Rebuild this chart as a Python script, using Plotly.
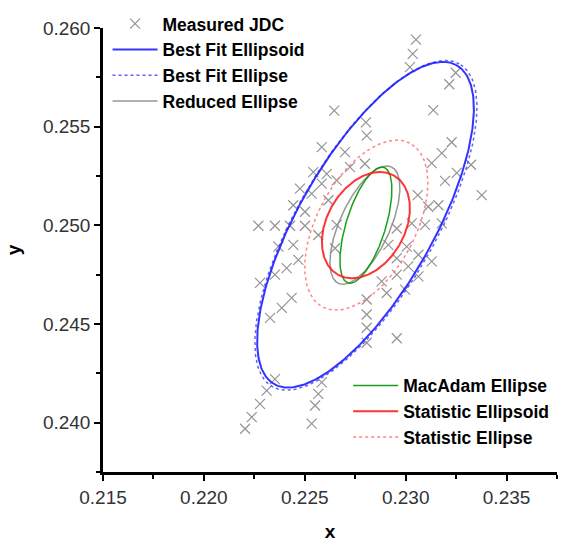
import numpy as np
import plotly.graph_objects as go

# Measured JDC chromaticity points (CIE x, y)
jdc_x = [0.23051, 0.23035, 0.23021, 0.23248, 0.23216, 0.23137, 0.22646, 0.22803,
         0.22807, 0.23228, 0.23179, 0.22584, 0.22699, 0.23129, 0.22798, 0.23324,
         0.22724, 0.22542, 0.22609, 0.23253, 0.23195, 0.22476, 0.22584, 0.22658,
         0.23377, 0.23060, 0.22534, 0.22443, 0.22617, 0.23162, 0.23112, 0.22501,
         0.22270, 0.22352, 0.22427, 0.22501, 0.22658, 0.23030, 0.23179, 0.23096,
         0.22956, 0.22567, 0.22369, 0.22443, 0.22914, 0.23005, 0.22650, 0.23063,
         0.22468, 0.22956, 0.23129, 0.22410, 0.22352, 0.23013, 0.23063, 0.22956,
         0.22278, 0.22881, 0.22906, 0.22997, 0.22435, 0.22386, 0.22328, 0.22807,
         0.22807, 0.22807, 0.22956, 0.22807, 0.22352, 0.22311, 0.22584, 0.22567,
         0.22278, 0.22551, 0.22237, 0.22534, 0.22204]
jdc_y = [0.25941, 0.25869, 0.25802, 0.25773, 0.25715, 0.25584, 0.25581, 0.25522,
         0.25455, 0.25421, 0.25366, 0.25396, 0.25371, 0.25315, 0.25312, 0.25307,
         0.25295, 0.25270, 0.25261, 0.25266, 0.25225, 0.25186, 0.25211, 0.25228,
         0.25153, 0.25153, 0.25161, 0.25102, 0.25127, 0.25102, 0.25094, 0.25069,
         0.24998, 0.24998, 0.24998, 0.24998, 0.25002, 0.25010, 0.25010, 0.25002,
         0.24984, 0.24951, 0.24892, 0.24901, 0.24901, 0.24892, 0.24884, 0.24851,
         0.24825, 0.24833, 0.24817, 0.24783, 0.24750, 0.24792, 0.24741, 0.24750,
         0.24708, 0.24716, 0.24657, 0.24674, 0.24632, 0.24582, 0.24531, 0.24624,
         0.24548, 0.24481, 0.24428, 0.24405, 0.24221, 0.24162, 0.24204, 0.24146,
         0.24095, 0.24087, 0.24028, 0.23995, 0.23969]

# Ellipse parameters: centre, semi-major, semi-minor, orientation (deg from x axis)
ellipse_names = ["Best Fit Ellipse", "Best Fit Ellipsoid", "Reduced Ellipse",
                 "MacAdam Ellipse", "Statistic Ellipsoid", "Statistic Ellipse"]
ellipse_cx = [0.22803, 0.22801, 0.22798, 0.22803, 0.22803, 0.22805]
ellipse_cy = [0.25000, 0.25003, 0.25001, 0.25001, 0.25001, 0.25001]
ellipse_a = [0.00940, 0.00926, 0.00323, 0.00306, 0.00287, 0.00468]
ellipse_b = [0.00342, 0.00335, 0.00125, 0.00098, 0.00194, 0.00244]
ellipse_angle = [60.5, 60.9, 66.2, 73.2, 61.9, 62.7]

ellipse_color = ["rgba(80,80,255,0.9)", "rgba(30,30,255,0.9)", "rgba(140,140,140,0.9)",
                 "rgba(0,150,0,0.9)", "rgba(255,30,30,0.9)", "rgba(255,120,120,0.9)"]
ellipse_dash = ["dot", "solid", "solid", "solid", "solid", "dot"]
ellipse_width = [1.5, 2, 1.5, 1.5, 2, 1.5]
ellipse_legend = ["legend", "legend", "legend", "legend2", "legend2", "legend2"]
legend_rank = [2, 1, 3, 1, 2, 3]

FONT = "Liberation Sans, Arial, sans-serif"

fig = go.Figure()

fig.add_trace(go.Scatter(
    x=jdc_x, y=jdc_y, mode="markers", name="Measured JDC",
    marker=dict(symbol="x-thin", size=10, line=dict(width=1.2, color="rgba(120,120,120,0.8)")),
    legend="legend", legendrank=0, legendgroup="g0",
))

t = np.linspace(0, 2 * np.pi, 361)
for i, name in enumerate(ellipse_names):
    th = np.radians(ellipse_angle[i])
    ex = ellipse_a[i] * np.cos(t)
    ey = ellipse_b[i] * np.sin(t)
    px = ellipse_cx[i] + ex * np.cos(th) - ey * np.sin(th)
    py = ellipse_cy[i] + ex * np.sin(th) + ey * np.cos(th)
    fig.add_trace(go.Scatter(
        x=px, y=py, mode="lines", name=name,
        line=dict(color=ellipse_color[i], dash=ellipse_dash[i], width=ellipse_width[i]),
        legend=ellipse_legend[i], legendrank=legend_rank[i], legendgroup=f"g{i + 1}",
    ))

axis_common = dict(
    showline=True, linewidth=2.5, linecolor="black", mirror=False,
    ticks="outside", ticklen=6, tickwidth=2, tickcolor="black",
    showgrid=False, zeroline=False,
    tickfont=dict(family=FONT, size=19, color="#333333"),
    tickformat=".3f",
)

legend_common = dict(
    xanchor="left", yanchor="top", bgcolor="rgba(0,0,0,0)",
    itemwidth=45, tracegroupgap=0, traceorder="grouped",
    font=dict(family=FONT, size=17.5, color="black", weight="bold"),
)

fig.update_layout(
    width=563, height=545,
    margin=dict(l=103, r=6, t=25, b=73),
    plot_bgcolor="white", paper_bgcolor="white",
    xaxis=dict(range=[0.215, 0.2375], dtick=0.005, tick0=0.215,
               minor=dict(dtick=0.0025, ticks="outside", ticklen=4, tickwidth=2, tickcolor="black"),
               title=dict(text="<b>x</b>", font=dict(family=FONT, size=19, color="black"), standoff=19),
               **axis_common),
    yaxis=dict(range=[0.2375, 0.260], dtick=0.005, tick0=0.240,
               minor=dict(dtick=0.0025, ticks="outside", ticklen=4, tickwidth=2, tickcolor="black"),
               title=dict(text="<b>y</b>", font=dict(family=FONT, size=19, color="black"), standoff=18),
               **axis_common),
    legend=dict(x=0.01, y=1.05, **legend_common),
    legend2=dict(x=0.54, y=0.235, **legend_common),
    showlegend=True,
)

fig.write_html("out.html")
